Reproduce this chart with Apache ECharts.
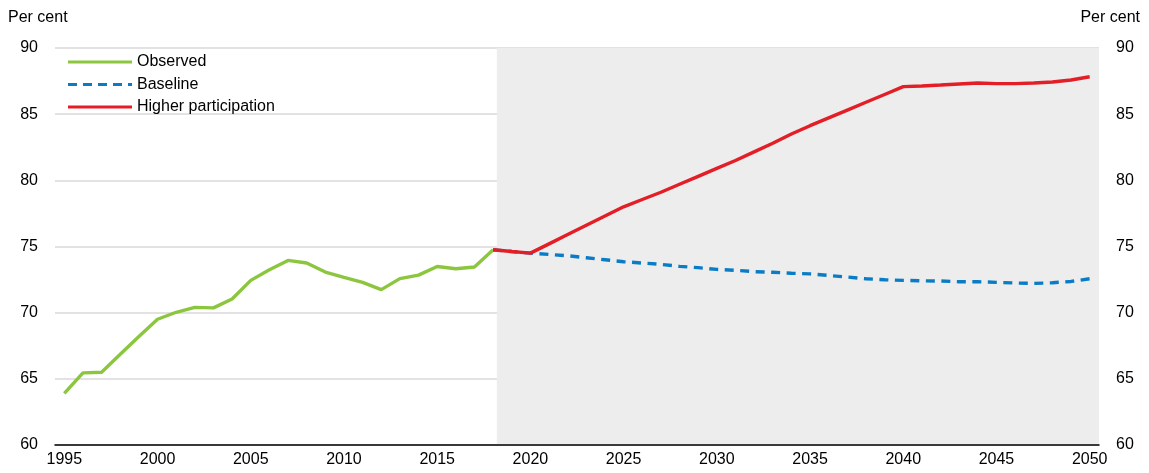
<!DOCTYPE html>
<html>
<head>
<meta charset="utf-8">
<script src="https://cdn.jsdelivr.net/npm/echarts@6/dist/echarts.min.js"></script>
<style>
  html, body { margin: 0; padding: 0; background: #fff; }
  #chart { width: 1149px; height: 473px; }
</style>
</head>
<body>
<div id="chart"></div>
<script>
// years on the horizontal axis
var years = [
  '1995', '1996', '1997', '1998', '1999', '2000', '2001', '2002', '2003', '2004',
  '2005', '2006', '2007', '2008', '2009', '2010', '2011', '2012', '2013', '2014',
  '2015', '2016', '2017', '2018', '2019', '2020', '2021', '2022', '2023', '2024',
  '2025', '2026', '2027', '2028', '2029', '2030', '2031', '2032', '2033', '2034',
  '2035', '2036', '2037', '2038', '2039', '2040', '2041', '2042', '2043', '2044',
  '2045', '2046', '2047', '2048', '2049', '2050'
];

// 1995 - 2018
var observed = [
  63.9, 65.45, 65.5, 66.85, 68.2, 69.5, 70.03, 70.4, 70.36, 71.03,
  72.44, 73.24, 73.95, 73.75, 73.07, 72.66, 72.29, 71.74, 72.57, 72.84,
  73.49, 73.32, 73.45, 74.75
];

// 2018 - 2050
var baseline = [
  74.75, 74.62, 74.5, 74.4, 74.3, 74.15, 74.0, 73.85, 73.75, 73.65,
  73.5, 73.4, 73.27, 73.2, 73.1, 73.05, 72.98, 72.93, 72.81, 72.69,
  72.56, 72.49, 72.44, 72.41, 72.39, 72.34, 72.34, 72.29, 72.24, 72.21,
  72.26, 72.36, 72.56
];

// 2018 - 2050
var higherParticipation = [
  74.75, 74.62, 74.5, 75.2, 75.9, 76.6, 77.3, 78.0, 78.55, 79.1,
  79.7, 80.3, 80.9, 81.5, 82.15, 82.8, 83.5, 84.13, 84.72, 85.31,
  85.9, 86.49, 87.08, 87.13, 87.2, 87.28, 87.36, 87.31, 87.31, 87.36,
  87.43, 87.58, 87.83
];

// projection period shading
var projectionStart = 2018.2;
var projectionEnd = 2050.5;

var yTicks = { min: 60, max: 90, step: 5 };

var FONT = "'Liberation Sans', Arial, sans-serif";
var FONT_SIZE = 16;

// legend swatches
var solidIcon = 'path://M0,0h64v3h-64z';
var dashedIcon = 'path://M0,0h9v3h-9z M15,0h9v3h-9z M30,0h9v3h-9z M45,0h9v3h-9z M60,0h4v3h-4z';

// pad a series onto the full year list
function onYears(values, firstYear) {
  var start = years.indexOf(firstYear);
  return years.map(function (y, i) {
    var k = i - start;
    return (k >= 0 && k < values.length) ? values[k] : null;
  });
}

var myChart = echarts.init(document.getElementById('chart'));

myChart.setOption({
  animation: false,
  backgroundColor: '#fff',
  textStyle: { fontFamily: FONT },
  graphic: [
    { type: 'text', left: 8, top: 10, style: { text: 'Per cent', font: FONT_SIZE + 'px ' + FONT, fill: '#000' } },
    { type: 'text', right: 9, top: 10, style: { text: 'Per cent', font: FONT_SIZE + 'px ' + FONT, fill: '#000' } }
  ],
  legend: {
    data: [
      { name: 'Observed', icon: solidIcon },
      { name: 'Baseline', icon: dashedIcon },
      { name: 'Higher participation', icon: solidIcon }
    ],
    orient: 'vertical',
    left: 68,
    top: 54,
    padding: 0,
    itemWidth: 64,
    itemHeight: 3.4,
    itemGap: 6.5,
    textStyle: { fontSize: FONT_SIZE, color: '#000', fontFamily: FONT }
  },
  grid: { left: 55, right: 50, top: 48, bottom: 28, containLabel: false },
  xAxis: [{
    type: 'category',
    data: years,
    boundaryGap: true,
    z: 3,
    axisLine: { lineStyle: { color: '#000', width: 1.5 } },
    axisTick: { inside: true, length: 5, interval: 0, lineStyle: { color: '#000', width: 1.2 } },
    axisLabel: { interval: 4, color: '#000', fontSize: FONT_SIZE, margin: 7, fontFamily: FONT },
    splitLine: { show: false }
  }, {
    type: 'value',
    min: 1994.5,
    max: 2050.5,
    show: false
  }],
  yAxis: [{
    type: 'value',
    position: 'left',
    min: yTicks.min,
    max: yTicks.max,
    interval: yTicks.step,
    z: 1,
    axisLine: { show: false },
    axisTick: { show: false },
    axisLabel: { color: '#000', fontSize: FONT_SIZE, margin: 17, fontFamily: FONT },
    splitLine: { lineStyle: { color: '#d9d9d9', width: 1.5 } }
  }, {
    type: 'value',
    position: 'right',
    min: yTicks.min,
    max: yTicks.max,
    interval: yTicks.step,
    axisLine: { show: false },
    axisTick: { show: false },
    axisLabel: { color: '#000', fontSize: FONT_SIZE, margin: 17, fontFamily: FONT },
    splitLine: { show: false }
  }],
  series: [{
    name: 'projection',
    type: 'line',
    xAxisIndex: 1,
    data: [],
    z: 0,
    silent: true,
    markArea: {
      silent: true,
      itemStyle: { color: '#ededed' },
      data: [[{ xAxis: projectionStart }, { xAxis: projectionEnd }]]
    }
  }, {
    name: 'Observed',
    type: 'line',
    data: onYears(observed, '1995'),
    symbol: 'none',
    z: 2,
    lineStyle: { color: '#8cc63f', width: 3.4 },
    itemStyle: { color: '#8cc63f' }
  }, {
    name: 'Baseline',
    type: 'line',
    data: onYears(baseline, '2018'),
    symbol: 'none',
    z: 3,
    lineStyle: { color: '#0a7cc6', width: 3.4, type: [9, 6.5] },
    itemStyle: { color: '#0a7cc6' }
  }, {
    name: 'Higher participation',
    type: 'line',
    data: onYears(higherParticipation, '2018'),
    symbol: 'none',
    z: 4,
    lineStyle: { color: '#e31e26', width: 3.4 },
    itemStyle: { color: '#e31e26' }
  }]
});
</script>
</body>
</html>
